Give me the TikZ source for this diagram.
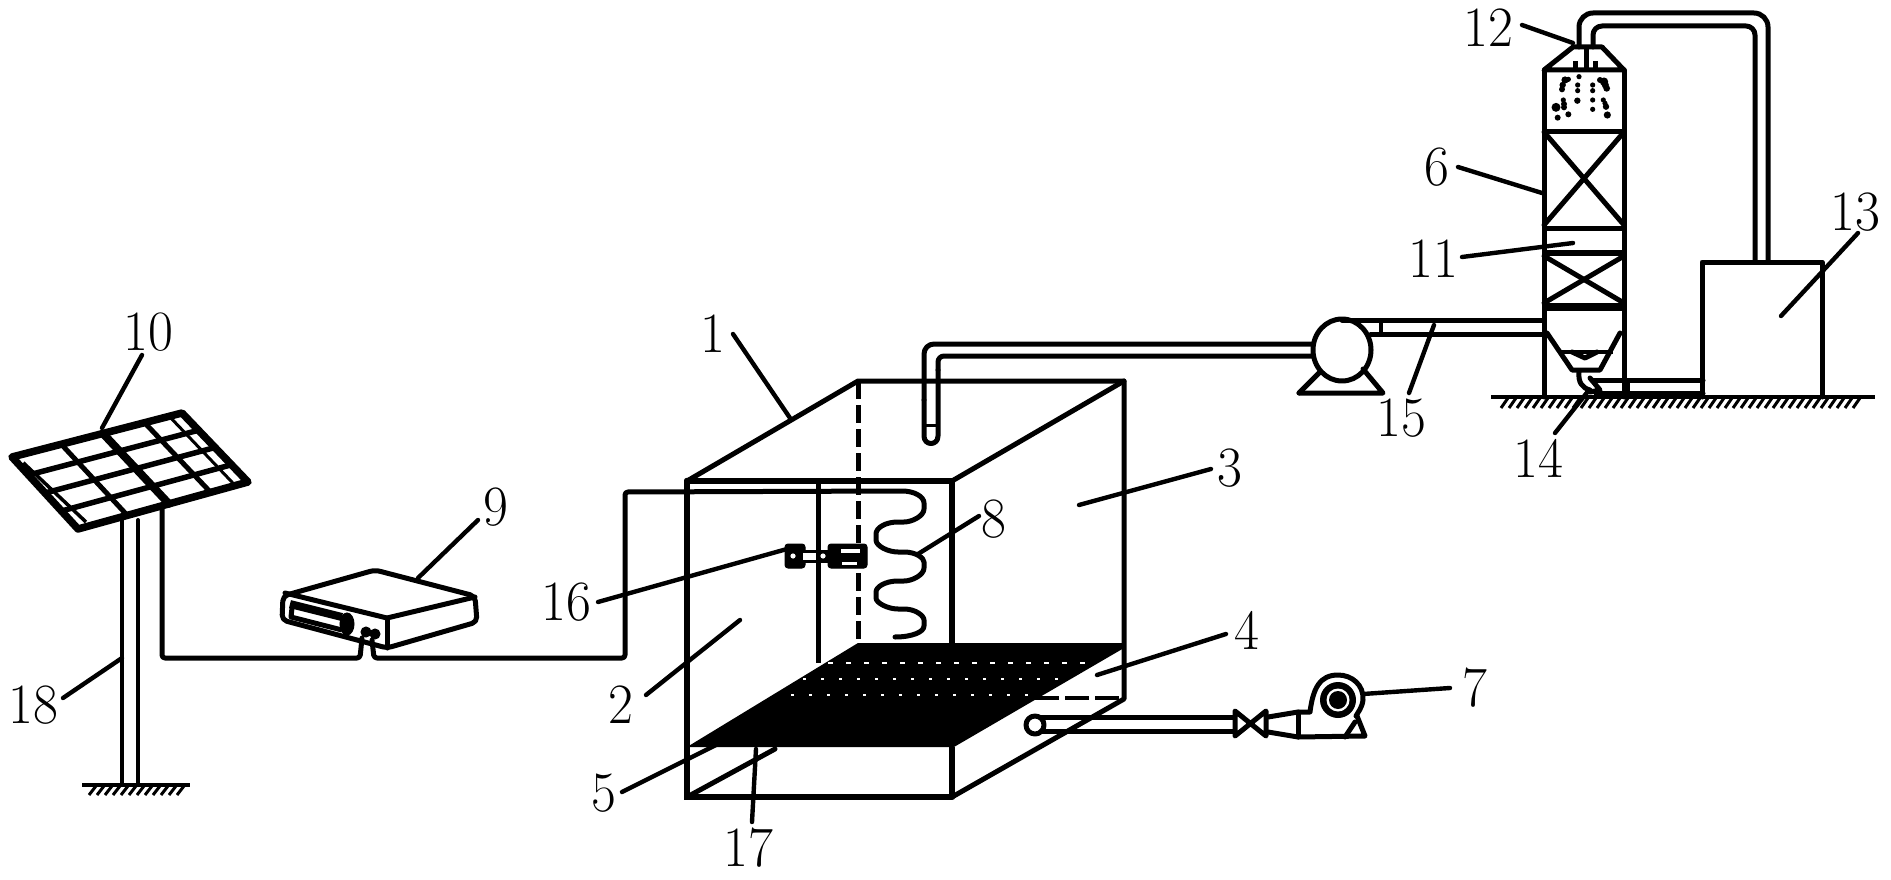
\documentclass[tikz,border=0pt]{standalone}
\usetikzlibrary{calc}
\tikzset{
  ln/.style={line width=5pt,line cap=round,line join=round},
  thin ln/.style={line width=4pt,line cap=round,line join=round},
  leader/.style={line width=4.4pt,line cap=round},
  lbl/.style={font=\fontsize{57}{57}\selectfont,inner sep=0pt,transform shape,xscale=.95},
  hatchline/.style={line width=3pt},
  blk/.style={fill=black,draw=black,line width=1pt},
  wht/.style={fill=white,draw=none}
}
\newcommand{\callout}[4]{%
  \node[lbl] (n#1) at (#2) {#1};
  \coordinate (a#1) at (#3);
  \coordinate (b#1) at (#4);
  \draw[leader] (a#1) -- (b#1);}
\begin{document}
\begin{tikzpicture}[x=1pt,y=-1pt]
\useasboundingbox (0,0) rectangle (1891,880);
% ---------- solar panel
\coordinate (L) at (12,457);
\coordinate (T) at (182,413);
\coordinate (B) at (78,529);
\coordinate (R) at (248,482);
\foreach \u in {.29,.78} \draw[line width=5pt] ($(L)!\u!(T)$) -- ($(B)!\u!(R)$);
\draw[line width=3pt] ($(L)!.925!(T)$) -- ($(B)!.925!(R)$);
\draw[line width=8pt,line cap=round] ($(L)!.535!(T)$) -- ($(B)!.535!(R)$);
\foreach \v in {.25,.5,.75} \draw[line width=5.5pt] ($(L)!\v!(B)$) -- ($(T)!\v!(R)$);
\draw[line width=7.5pt,line join=round] (L) -- (T) -- (R) -- (B) -- cycle;
\draw[line width=3.5pt] ($(L)!.08!(B)+(6,0)$) -- ($(B)+(8,-7)$);
% pole and ground
\draw[thin ln] (122,520) -- (122,785);
\draw[thin ln] (138,520) -- (138,785);
\draw[line width=4pt] (82,785) -- (190,785);
\foreach \x in {96,104,...,184} \draw[hatchline] (\x,786) -- ++(-7,9);
% ---------- controller 9
\draw[ln,rounded corners=5pt] (283,596) -- (375,570) -- (475,596) -- (477,622) -- (387,648) -- (282,620) -- cycle;
\draw[ln] (285,593) -- (387,618) -- (475,597);
\draw[ln] (387,618) -- (387,648);
\draw[line width=8pt] (290,604) -- (342,617);
\draw[line width=5pt,line join=round] (292,608) -- (291,617) -- (342,630);
\draw[blk] (347,624) ellipse (7 and 11);
\draw[blk] (366,632) circle (5);
\draw[blk] (375,634) circle (5);
% wires
\draw[ln,rounded corners=3pt] (162,507) -- (162,658) -- (360,658) -- (362,638);
\draw[ln,rounded corners=3pt] (372,640) -- (374,658) -- (625,658) -- (625,492) -- (899,491)
  .. controls (915,491) and (924,497) .. (924,506)
  .. controls (924,516) and (912,522) .. (901,522)
  .. controls (885,522) and (876,528) .. (876,537)
  .. controls (876,546) and (888,552) .. (901,552)
  .. controls (916,552) and (924,558) .. (924,565)
  .. controls (924,575) and (912,581) .. (901,581)
  .. controls (885,581) and (876,587) .. (876,595)
  .. controls (876,603) and (888,609) .. (901,609)
  .. controls (916,609) and (924,616) .. (924,623)
  .. controls (924,632) and (912,637) .. (895,637);
% ---------- treatment tank
\coordinate (FTL) at (687,481);
\coordinate (FTR) at (952,481);
\coordinate (FBL) at (687,797);
\coordinate (FBR) at (952,797);
\coordinate (BTL) at (858,381);
\coordinate (BTR) at (1124,381);
\coordinate (BBR) at (1124,699);
% plate
\fill (858,643) -- (1124,643) -- (1124,648) -- (954,747) -- (687,747) -- cycle;
\draw[white,line width=1.3pt,dash pattern=on 5pt off 13pt] (828,663) -- (1089,663);
\draw[white,line width=1.3pt,dash pattern=on 3pt off 15pt] (803,679) -- (1064,679);
\draw[white,line width=1.3pt,dash pattern=on 3pt off 15pt] (791,695) -- (1040,695);
\draw[line width=6pt,line cap=round] (FTL) -- (FTR);
\draw[line width=6.5pt,line cap=round] (FTL) -- (FBL) -- (FBR);
\draw[line width=6.5pt] (FTR) -- (952,645);
\draw[line width=6.5pt] (FBR) -- (952,747);
\draw[ln] (FTL) -- (BTL) -- (BTR) -- (BBR) -- (FBR);
\draw[ln] (FTR) -- (BTR);
\draw[ln] (FBL) -- (775,749);
\draw[line width=5pt] (818,481) -- (818,663);
\draw[line width=5pt,dash pattern=on 18pt off 6pt] (858,381) -- (858,643);
\draw[line width=4pt,dash pattern=on 24pt off 6pt] (1035,698) -- (1122,698);
% device 16
\draw[blk,rounded corners=3pt] (785,544) rectangle (805,568);
\draw[blk] (805,550) rectangle (830,562);
\draw[blk,rounded corners=3pt] (828,544) rectangle (867,568);
\fill[white] (793,556) circle (2.6);
\fill[white] (803,553) rectangle (816,560);
\fill[white] (823,556) circle (2.6);
\fill[white] (841,549) rectangle (860,553);
\fill[white] (842,562) rectangle (857,565);
% inlet pipe into tank, pump
\draw[ln,rounded corners=10pt] (1312,344) -- (924,344) -- (924,400);
\draw[ln] (924,400) -- (924,436) .. controls (924,446) and (938,446) .. (938,436) -- (938,370);
\draw[ln,rounded corners=6pt] (938,370) -- (938,356) -- (1312,356);
\draw[line width=3pt] (924,425) -- (938,425);
\fill[white] (931,434) circle (2.5);
\draw[ln] (1342,350) ellipse (29 and 31);
\draw[ln] (1299,393) -- (1383,393) -- (1363,369);
\draw[ln] (1299,393) -- (1320,372);
% pipe pump to tower
\draw[ln] (1342,320) -- (1542,320);
\draw[ln] (1371,334) -- (1542,334);
\draw[line width=3.5pt] (1381,320) -- (1381,334);
% ---------- tower 6
\draw[ln] (1544,70) -- (1544,397);
\draw[ln] (1624,70) -- (1624,397);
\draw[ln] (1544,70) -- (1573,47) -- (1602,47) -- (1624,70) -- cycle;
\draw[ln] (1586,48) -- (1586,68);
\draw[line width=5pt] (1575,61) -- (1575,68);
\draw[line width=5pt] (1595,61) -- (1595,68);
\draw[line width=5pt] (1544,132) -- (1624,132);
\draw[ln] (1544,132) -- (1624,225);
\draw[ln] (1624,132) -- (1544,225);
\draw[line width=5pt] (1544,228) -- (1624,228);
\draw[line width=6pt] (1544,253) -- (1624,253);
\draw[ln] (1544,256) -- (1624,303);
\draw[ln] (1624,256) -- (1544,303);
\draw[line width=8pt] (1544,307) -- (1624,307);
\draw[ln] (1547,333) -- (1572,370) -- (1600,370) -- (1620,333);
\draw[line width=3.4pt] (1560,352) -- (1613,352);
\draw[ln] (1572,352) -- (1585,358) -- (1597,352);
\draw[ln] (1579,372) .. controls (1578,382) and (1582,388) .. (1590,390);
\draw[ln] (1590,378) -- (1600,390) -- (1590,392);
% spray
\foreach \X/\Y/\r in {237/230/2.6,233/255/2.6,233/272/2.6,232/302/3.2,278/255/2.6,278/272/2.6,278/300/2.6,278/328/2.6,205/343/3,173/353/3,190/300/2.6,192/312/3,192/322/3,168/322/4.5,188/255/3.2,186/268/3,195/240/3.6,205/238/2.6,300/240/3,312/245/4.2,320/265/3.4,316/255/3.6,310/300/2.6,318/320/3.2,322/345/3.6,315/310/2.6}
  \fill ({1500+\X/3},{\Y/3}) circle (\r);
% pipes at tower foot
\draw[ln] (1592,380) -- (1703,380);
\draw[ln] (1596,393) -- (1703,393);
\draw[line width=3.5pt] (1628,380) -- (1628,393);
% ground
\draw[line width=4pt] (1491,397) -- (1875,397);
\foreach \x in {1508,1516,...,1860} \draw[hatchline] (\x,398) -- ++(-7,10);
% tank 13
\draw[ln] (1702,397) -- (1702,262) -- (1822,262) -- (1822,397);
\draw[ln,rounded corners=14pt] (1579,47) -- (1579,13) -- (1768,13) -- (1768,262);
\draw[ln,rounded corners=9pt] (1593,47) -- (1593,26) -- (1755,26) -- (1755,262);
% ---------- air pipe and blower
\draw[ln] (1035,725) circle (9);
\fill[white] (1035,725) circle (3.5);
\draw[ln] (1041,717) -- (1233,717);
\draw[ln] (1041,731) -- (1233,731);
\draw[ln] (1235,711) -- (1235,736) -- (1266,711) -- (1266,736) -- cycle;
\draw[ln] (1268,717) -- (1298,712) -- (1310,712) .. controls (1313,688) and (1320,675) .. (1338,675)
  .. controls (1352,675) and (1364,685) .. (1363,700) .. controls (1362,708) and (1358,712) .. (1356,716);
\draw[ln] (1268,732) -- (1298,737) -- (1365,736) -- (1357,716);
\draw[ln] (1298,712) -- (1298,737);
\draw[ln] (1345,737) -- (1355,722);
\fill (1338,700) circle (18);
\fill[white] (1338,700) circle (11.5);
\fill (1338,700) circle (9);
% ---------- callouts
\callout{1}{713,334}{733,334}{790,418}
\callout{2}{621,705}{740,620}{646,695}
\callout{3}{1230,468}{1211,469}{1079,505}
\callout{4}{1247,630}{1226,634}{1097,675}
\callout{5}{604,793}{622,792}{720,743}
\callout{6}{1437,167}{1458,167}{1542,193}
\callout{7}{1475,688}{1450,688}{1363,694}
\callout{8}{994,519}{979,516}{918,554}
\callout{9}{496,507}{478,520}{418,578}
\callout{10}{148,332}{142,355}{102,428}
\callout{11}{1433,259}{1462,257}{1573,243}
\callout{12}{1488,28}{1522,25}{1573,43}
\callout{13}{1855,212}{1858,233}{1781,316}
\callout{14}{1538,458}{1555,433}{1589,390}
\callout{15}{1401,418}{1409,393}{1434,325}
\callout{16}{566,602}{598,602}{787,549}
\callout{17}{748,848}{752,822}{756,749}
\callout{18}{33,705}{63,698}{122,658}
\end{tikzpicture}
\end{document}
